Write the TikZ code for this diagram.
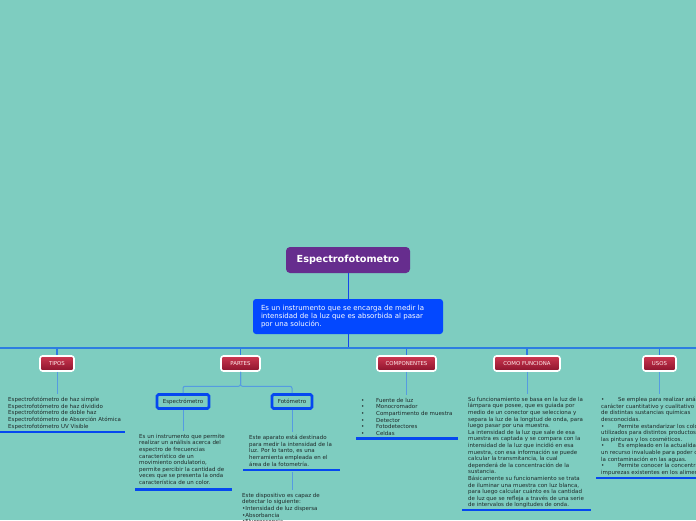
\documentclass[tikz,border=0pt]{standalone}
\usepackage{fontspec}
\setmainfont{DejaVu Sans}
\definecolor{bg}{RGB}{126,205,192}
\definecolor{titlecol}{RGB}{102,45,142}
\definecolor{desccol}{RGB}{3,72,255}
\definecolor{mainline}{RGB}{45,125,225}
\definecolor{branchline}{RGB}{85,155,225}
\definecolor{darkline}{RGB}{20,70,235}
\definecolor{ulcol}{RGB}{5,72,240}
\definecolor{redtop}{RGB}{205,55,80}
\definecolor{redbot}{RGB}{140,20,45}
\definecolor{txtcol}{RGB}{30,40,40}
\begin{document}
\begin{tikzpicture}[x=1pt,y=-1pt,
  titlebox/.style={fill=titlecol, rounded corners=4pt, text=white, font=\fontsize{9.7}{10}\selectfont\bfseries, minimum width=124pt, minimum height=26pt, inner sep=0pt},
  descbox/.style={fill=desccol, rounded corners=3pt, text=white, font=\fontsize{7}{8}\selectfont, minimum width=190pt, minimum height=35pt, text width=174pt, align=left, inner sep=0pt},
  catbox/.style={draw=white, line width=1.6pt, rounded corners=2.5pt, top color=redtop, bottom color=redbot, text=white!92!red, font=\fontsize{5.4}{6}\selectfont, minimum height=15pt, inner sep=0pt},
  subbox/.style={draw=ulcol, line width=2.6pt, rounded corners=1.5pt, fill=bg, text=txtcol, font=\fontsize{5.5}{6}\selectfont, minimum height=14pt, inner sep=0pt},
  txt/.style={anchor=north west, inner xsep=0pt, inner ysep=3pt, align=left, font=\fontsize{5.5}{6.6}\selectfont, text=txtcol},
  mline/.style={draw=mainline, line width=1.3pt},
  bline/.style={draw=branchline, line width=1pt},
  dline/.style={draw=darkline, line width=0.8pt},
  uline/.style={draw=ulcol, line width=2.8pt}
]
\fill[bg] (0,0) rectangle (696,520);
\clip (0,0) rectangle (696,520);

% title and description
\node[titlebox] (title) at (348,260) {Espectrofotometro};
\node[descbox] (desc) at (348,316.5) {Es un instrumento que se encarga de medir la\\intensidad de la luz que es absorbida al pasar\\por una solución.};
\coordinate (hub) at (348,348);
\coordinate (left) at (0,348);
\coordinate (right) at (696,348);
\draw[dline] (title.south) -- (desc.north);
\draw[dline] (desc.south) -- (hub);
\draw[mline] (left) -- (right);

% categories
\node[catbox, minimum width=34pt] (tipos) at (57,363.5) {TIPOS};
\node[catbox, minimum width=39pt] (partes) at (240.5,363.5) {PARTES};
\node[catbox, minimum width=59pt] (comp) at (406.5,363.5) {COMPONENTES};
\node[catbox, minimum width=66pt] (como) at (527,363.5) {COMO FUNCIONA};
\node[catbox, minimum width=33pt] (usos) at (659.5,363.5) {USOS};
\foreach \n in {tipos,partes,comp,como,usos}{
  \draw[mline, rounded corners=2pt] (\n.north |- hub) -- (\n.north);
}

% TIPOS
\node[txt] (tipostxt) at (8,394) {Espectrofotómetro de haz simple\\Espectrofotómetro de haz dividido\\Espectrofotómetro de doble haz\\Espectrofotómetro de Absorción Atómica\\Espectrofotómetro UV Visible};
\draw[bline] (tipos.south) -- (tipos.south |- tipostxt.north);
\draw[uline] (0,432) -- (125,432);

% PARTES
\node[subbox, minimum width=52pt] (espec) at (183,401.5) {Espectrómetro};
\node[subbox, minimum width=40pt] (foto) at (292,401.5) {Fotómetro};
\draw[bline, rounded corners=2pt] (partes.south) -- ++(0,14.5) -| (espec.north);
\draw[bline, rounded corners=2pt] (partes.south) -- ++(0,14.5) -| (foto.north);

\node[txt] (espectxt) at (139,431) {Es un instrumento que permite\\realizar un análisis acerca del\\espectro de frecuencias\\característico de un\\movimiento ondulatorio,\\permite percibir la cantidad de\\veces que se presenta la onda\\característica de un color.};
\draw[bline] (espec.south) -- (espec.south |- espectxt.north);
\draw[uline] (135,489.5) -- (232,489.5);

\node[txt] (fototxt) at (249,432) {Este aparato está destinado\\para medir la intensidad de la\\luz. Por lo tanto, es una\\herramienta empleada en el\\área de la fotometría.};
\draw[bline] (foto.south) -- (foto.south |- fototxt.north);
\draw[uline] (243,470) -- (340,470);

\coordinate (fotoline) at (292,472);
\node[txt] (fototxtb) at (242,490) {Este dispositivo es capaz de\\detectar lo siguiente:\\•Intensidad de luz dispersa\\•Absorbancia\\•Fluorescencia};
\draw[bline] (fotoline) -- (fotoline |- fototxtb.north);

% COMPONENTES
\node[txt] (comptxt) at (361,395) {\makebox[15pt][l]{•}Fuente de luz\\\makebox[15pt][l]{•}Monocromador\\\makebox[15pt][l]{•}Compartimento de muestra\\\makebox[15pt][l]{•}Detector\\\makebox[15pt][l]{•}Fotodetectores\\\makebox[15pt][l]{•}Celdas};
\draw[bline] (comp.south) -- (comp.south |- comptxt.north);
\draw[uline] (356,438.5) -- (458,438.5);

% COMO FUNCIONA
\node[txt] (comotxt) at (468,394) {Su funcionamiento se basa en la luz de la\\lámpara que posee, que es guiada por\\medio de un conector que selecciona y\\separa la luz de la longitud de onda, para\\luego pasar por una muestra.\\La intensidad de la luz que sale de esa\\muestra es captada y se compara con la\\intensidad de la luz que incidió en esa\\muestra, con esa información se puede\\calcular la transmitancia, la cual\\dependerá de la concentración de la\\sustancia.\\Básicamente su funcionamiento se trata\\de iluminar una muestra con luz blanca,\\para luego calcular cuánto es la cantidad\\de luz que se refleja a través de una serie\\de intervalos de longitudes de onda.};
\draw[bline] (como.south) -- (como.south |- comotxt.north);
\draw[uline] (462,510) -- (591,510);

% USOS
\node[txt] (usostxt) at (601,394) {\makebox[15pt][l]{•}\hspace{2pt}Se emplea para realizar análisis de\\carácter cuantitativo y cualitativo de\\de distintas sustancias químicas\\desconocidas.\\\makebox[15pt][l]{•}\hspace{2pt}Permite estandarizar los colores\\utilizados para distintos productos, como\\las pinturas y los cosméticos.\\\makebox[15pt][l]{•}\hspace{2pt}Es empleado en la actualidad como\\un recurso invaluable para poder controlar\\la contaminación en las aguas.\\\makebox[15pt][l]{•}\hspace{2pt}Permite conocer la concentración de\\impurezas existentes en los alimentos.};
\draw[bline] (usos.south) -- (usos.south |- usostxt.north);
\draw[uline] (596,478) -- (696,478);
\end{tikzpicture}
\end{document}
